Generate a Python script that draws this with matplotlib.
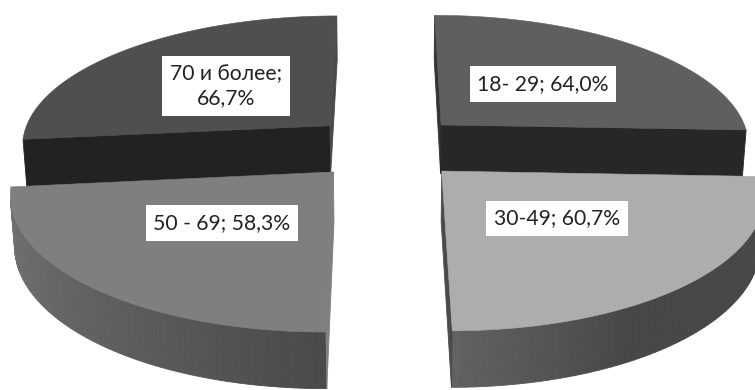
import numpy as np
import matplotlib
matplotlib.use('Agg')
import matplotlib.pyplot as plt

# Chart data (clockwise from 12 o'clock)
names = ['18- 29', '30-49', '50 - 69', '70 и более']
values = [64.0, 60.7, 58.3, 66.7]
separators = ['; ', '; ', '; ', ';\n']

# Colours of each slice
top_colors = ['#5f5f5f', '#adadad', '#7f7f7f', '#4f4f4f']
start_cut_colors = ['#333333', '#666666', '#808080', '#222222']
end_cut_colors = ['#272727', '#4a4a4a', '#262626', '#4a4a4a']
side_stops = [
    [0x44, 0x44],
    [0x4a, 0x47, 0x47, 0x62],
    [0x4a, 0x5a, 0x68, 0x72],
    [0x44, 0x44],
]
label_pos = [(543, 84), (557, 218.5), (222, 223), (226, 86)]

# Projection of the tilted pie onto the picture, in pixels
cx, cy = 386.5, 147
rx, ry = 310.5, 130.4
depth = 50
persp_y, persp_z = 0.138, 0.011
explode = 0.25


def project(x, y, z=0.0):
    w = 1 + persp_y * y + persp_z * z
    return cx + rx * x / w, cy + (-ry * y + depth * z) / w


def signed_area(px, py):
    return 0.5 * np.sum(px * np.roll(py, -1) - np.roll(px, -1) * py)


fig = plt.figure(figsize=(7.55, 3.9), dpi=100)
ax = fig.add_axes([0, 0, 1, 1])
ax.set_xlim(0, 755)
ax.set_ylim(390, 0)
ax.axis('off')

fractions = np.array(values) / sum(values)
ends = np.cumsum(fractions) * 2 * np.pi
starts = ends - fractions * 2 * np.pi

# back slices first so that the front ones cover them
for i in [0, 3, 1, 2]:
    th = np.linspace(starts[i], ends[i], 80)
    mid = (starts[i] + ends[i]) / 2
    ox, oy = explode * np.sin(mid), explode * np.cos(mid)
    arc_x, arc_y = ox + np.sin(th), oy + np.cos(th)

    faces = []
    for j in range(len(th) - 1):
        xs = [arc_x[j], arc_x[j + 1], arc_x[j + 1], arc_x[j]]
        ys = [arc_y[j], arc_y[j + 1], arc_y[j + 1], arc_y[j]]
        zs = [0, 0, 1, 1]
        shade = np.interp(j, np.linspace(0, len(th) - 2, len(side_stops[i])), side_stops[i])
        faces.append((xs, ys, zs, '#%02x%02x%02x' % (int(shade), int(shade), int(shade))))
    faces.append(([ox, arc_x[0], arc_x[0], ox], [oy, arc_y[0], arc_y[0], oy], [0, 0, 1, 1], start_cut_colors[i]))
    faces.append(([arc_x[-1], ox, ox, arc_x[-1]], [arc_y[-1], oy, oy, arc_y[-1]], [0, 0, 1, 1], end_cut_colors[i]))

    for xs, ys, zs, color in faces:
        px, py = project(np.array(xs), np.array(ys), np.array(zs))
        # y axis is inverted, outward faces wind one way only
        if signed_area(px, py) < 0:
            ax.fill(px, py, color=color, linewidth=0.6, zorder=2)

    px, py = project(np.r_[ox, arc_x], np.r_[oy, arc_y])
    ax.fill(px, py, color=top_colors[i], linewidth=0.4, zorder=2)

for i in range(4):
    label = names[i] + separators[i] + f'{values[i]:.1f}'.replace('.', ',') + '%'
    ax.text(label_pos[i][0], label_pos[i][1], label, ha='center', va='center',
            family=['Lato', 'DejaVu Sans'], fontsize=15.2, color='#222222', linespacing=1.3,
            bbox=dict(facecolor='white', edgecolor='none', pad=5.5), zorder=5)

fig.savefig('out.png', dpi=100)
